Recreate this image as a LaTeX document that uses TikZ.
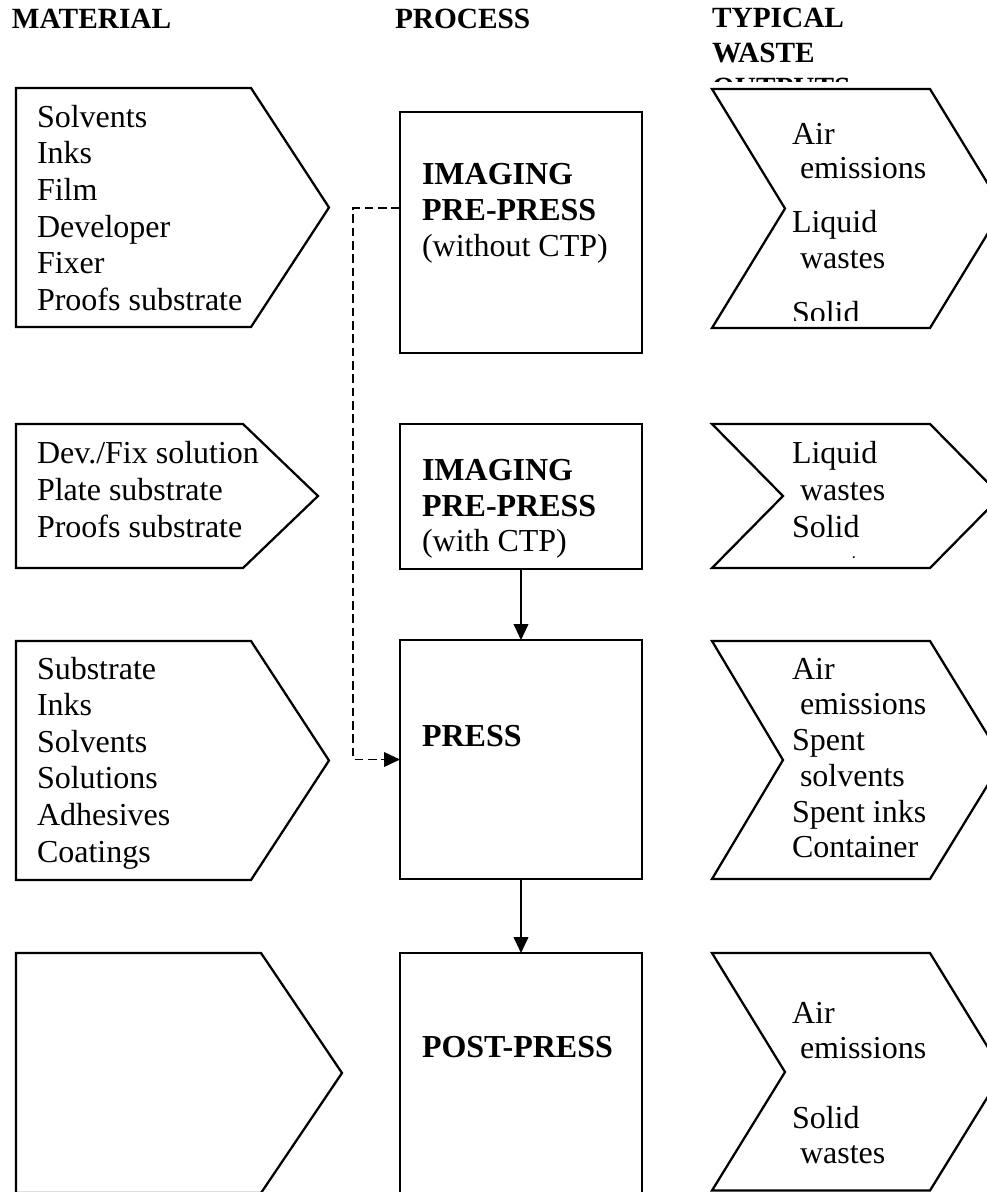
\documentclass[tikz,border=0pt]{standalone}
\usepackage{fontspec}
\setmainfont{Liberation Serif}
\usetikzlibrary{arrows.meta}
\tikzset{
  txt/.style={anchor=base west, inner sep=0pt, outer sep=0pt, font=\fontsize{24}{27.5}\selectfont},
  btxt/.style={anchor=base west, inner sep=0pt, outer sep=0pt, font=\fontsize{24}{27.5}\selectfont\bfseries},
  htxt/.style={anchor=base west, inner sep=0pt, outer sep=0pt, font=\fontsize{22}{26}\selectfont\bfseries},
  shp/.style={draw, line width=1.7pt, line join=miter},
  procbox/.style={draw, line width=1.7pt, inner sep=0pt, outer sep=0pt, minimum width=181.5pt},
  flow/.style={line width=1.4pt, -{Triangle[length=12pt, width=11pt]}},
  dflow/.style={line width=1.2pt, dash pattern=on 6.5pt off 3.5pt, -{Triangle[length=12pt, width=11pt]}},
}
\begin{document}
\begin{tikzpicture}[x=0.75pt, y=-0.75pt]
\useasboundingbox (0,0) rectangle (987,1192);

% headers
\node[htxt] (hmat) at (12,28.5) {MATERIAL};
\node[htxt] (hproc) at (395,28.5) {PROCESS};
\begin{scope}
  \clip (700,0) rectangle (987,81.5);
  \node[htxt] (hw1) at (712,27.5) {TYPICAL};
  \node[htxt] (hw2) at (712,62.5) {WASTE};
  \node[htxt] (hw3) at (712,97) {OUTPUTS};
\end{scope}

% material pentagons
\draw[shp] (16,88) -- (251,88) -- (329,207.5) -- (251,327) -- (16,327) -- cycle;
\draw[shp] (16,424) -- (243,424) -- (318,496) -- (243,568) -- (16,568) -- cycle;
\draw[shp] (16,641) -- (251,641) -- (329,760.5) -- (251,880) -- (16,880) -- cycle;
\draw[shp] (16,953) -- (261,953) -- (342,1073) -- (261,1193) -- (16,1193) -- cycle;

\foreach \t [count=\i] in {Solvents,Inks,Film,Developer,Fixer,Proofs substrate}
  \node[txt, name=ma\i] at (37,{127+36.7*(\i-1)}) {\t};
\foreach \t [count=\i] in {Dev./Fix solution,Plate substrate,Proofs substrate}
  \node[txt, name=mb\i] at (37,{463+37*(\i-1)}) {\t};
\foreach \t [count=\i] in {Substrate,Inks,Solvents,Solutions,Adhesives,Coatings}
  \node[txt, name=mc\i] at (37,{679+36.6*(\i-1)}) {\t};

% process boxes
\node[procbox, minimum height=180.75pt] (b1) at (521,232.5) {};
\node[procbox, minimum height=108.75pt] (b2) at (521,496.5) {};
\node[procbox, minimum height=179.25pt] (b3) at (521,759.5) {};
\node[procbox, minimum height=180pt] (b4) at (521,1073) {};

\node[btxt] (b1a) at (422,184) {IMAGING};
\node[btxt] (b1b) at (422,220) {PRE-PRESS};
\node[txt]  (b1c) at (422,256) {(without CTP)};
\node[btxt] (b2a) at (422,480) {IMAGING};
\node[btxt] (b2b) at (422,516) {PRE-PRESS};
\node[txt]  (b2c) at (422,551) {(with CTP)};
\node[btxt] (b3a) at (422,746) {PRESS};
\node[btxt] (b4a) at (422,1057) {POST-PRESS};

% connectors
\draw[flow] (b2.south) -- (b3.north);
\draw[flow] (b3.south) -- (b4.north);
\coordinate (dk) at (353,208);
\draw[dflow] (b1.west |- dk) -- (dk) |- (b3.west);

% waste chevrons
\draw[shp] (712,89) -- (930,89) -- (1003,208.5) -- (930,328) -- (712,328) -- (785,208.5) -- cycle;
\draw[shp] (712,424) -- (930,424) -- (1001,496) -- (930,568) -- (712,568) -- (783,496) -- cycle;
\draw[shp] (712,641) -- (930,641) -- (1003,760) -- (930,879) -- (712,879) -- (783,760) -- cycle;
\draw[shp] (712,953) -- (930,953) -- (1003,1072) -- (930,1190.5) -- (712,1190.5) -- (785,1072) -- cycle;

\begin{scope}
  \clip (785,95) rectangle (935,320);
  \node[txt] (w1a) at (792,144.5) {Air};
  \node[txt] (w1b) at (800,178.5) {emissions};
  \node[txt] (w1c) at (792,232.5) {Liquid};
  \node[txt] (w1d) at (800,268) {wastes};
  \node[txt] (w1e) at (792,323) {Solid};
\end{scope}
\begin{scope}
  \clip (785,430) rectangle (935,557.5);
  \node[txt] (w2a) at (792,463) {Liquid};
  \node[txt] (w2b) at (800,500) {wastes};
  \node[txt] (w2c) at (792,537) {Solid};
  \node[txt] (w2d) at (800,574) {wastes};
\end{scope}
\node[txt] (w3a) at (792,679) {Air};
\node[txt] (w3b) at (800,714) {emissions};
\node[txt] (w3c) at (792,750) {Spent};
\node[txt] (w3d) at (800,786.5) {solvents};
\node[txt] (w3e) at (792,822.5) {Spent inks};
\node[txt] (w3f) at (792,857) {Container};
\node[txt] (w4a) at (792,1023) {Air};
\node[txt] (w4b) at (800,1058) {emissions};
\node[txt] (w4c) at (792,1128) {Solid};
\node[txt] (w4d) at (800,1163) {wastes};
\end{tikzpicture}
\end{document}
